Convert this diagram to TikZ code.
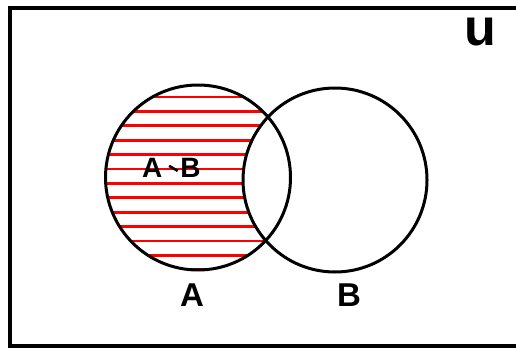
\documentclass[tikz,border=0pt]{standalone}
\usepackage{graphicx}
\usepackage{fontspec}
\setmainfont{Liberation Sans}
\begin{document}
\begin{tikzpicture}[x=1pt,y=-1pt,
  setcircle/.style={circle,draw=black,line width=3pt,inner sep=0pt,minimum size=185pt},
  hatch/.style={draw=red,line width=2.8pt},
  lbl/.style={font=\bfseries,inner sep=0pt}]
\useasboundingbox (0,0) rectangle (516,348);
\begin{scope}
\clip (0,0) rectangle (516,348);
\draw[line width=4pt] (10,8) rectangle (530,346);
\end{scope}
% hatching of A \ B
\begin{scope}
\clip (198,177.5) circle (92.5);
\begin{scope}[even odd rule]
\clip (335,180) circle (92) (0,0) rectangle (516,348);
\foreach \i in {0,...,12} {
  \draw[hatch] (100,97+14.4*\i) -- (300,97+14.4*\i);
}
\end{scope}
\end{scope}
\node[setcircle] (A) at (198,177.5) {};
\node[setcircle,minimum size=184pt] (B) at (335,180) {};
\node[lbl,font=\fontsize{28}{30}\selectfont\bfseries,anchor=base west] (AB) at (142,177) {A\hspace{6pt}\raisebox{10pt}{\rotatebox{-30}{\rule{10pt}{2.6pt}}}\hspace{2pt}B};
\node[lbl,font=\fontsize{33}{34}\selectfont\bfseries] (la) at (192,295) {A};
\node[lbl,font=\fontsize{33}{34}\selectfont\bfseries] (lb) at (349,295) {B};
\node[lbl,font=\fontsize{52}{54}\selectfont\bfseries,anchor=base] (u) at (480,45) {u};
\end{tikzpicture}
\end{document}
